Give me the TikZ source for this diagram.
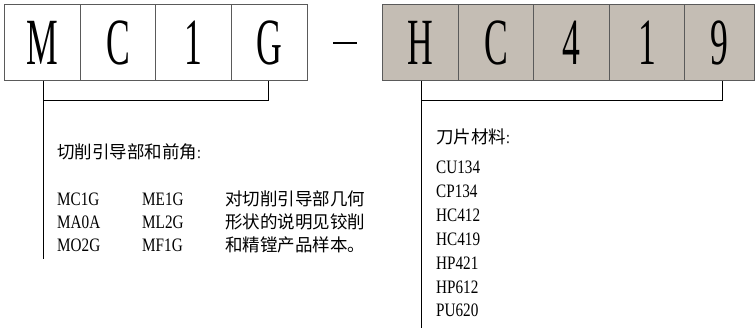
\documentclass[tikz,border=0pt]{standalone}
\usepackage{fontspec}
\setmainfont{Liberation Serif}
\newfontfamily\cjk{Noto Sans CJK SC}
\newfontfamily\bigf[FakeStretch=0.54]{Liberation Serif}
\newfontfamily\smallf[FakeStretch=0.8]{Liberation Serif}
\definecolor{boxfill}{RGB}{196,189,180}
\definecolor{boxline}{RGB}{90,90,90}
\tikzset{
  lbox/.style={draw=boxline, line width=0.9pt, minimum height=75.5pt, inner sep=0pt, font=\bigf\fontsize{66}{66}\selectfont},
  rbox/.style={lbox, fill=boxfill},
  cn/.style={anchor=west, inner sep=0pt, font=\cjk\fontsize{17.5}{20}\selectfont},
  lt/.style={anchor=west, inner sep=0pt, font=\smallf\fontsize{19}{22}\selectfont},
  brk/.style={line width=0.9pt, black}
}
\begin{document}
\begin{tikzpicture}[x=1pt,y=-1pt]
\useasboundingbox (0,0) rectangle (755,328);
% left code boxes
\node[lbox, minimum width=75.7pt] (m1) at (42.2,42.5) {M};
\node[lbox, minimum width=75.7pt] (m2) at (118,42.5) {C};
\node[lbox, minimum width=75.7pt] (m3) at (193.7,42.5) {1};
\node[lbox, minimum width=75.7pt] (m4) at (269.4,42.5) {G};
% dash
\node[inner sep=0pt, minimum width=24pt, minimum height=2.4pt, fill=black] (dash) at (345,43) {};
% right code boxes
\node[rbox, minimum width=75.7pt] (h1) at (420.2,42.5) {H};
\node[rbox, minimum width=75.7pt] (h2) at (496,42.5) {C};
\node[rbox, minimum width=75.7pt] (h3) at (571.5,42.5) {4};
\node[rbox, minimum width=75.7pt] (h4) at (647.2,42.5) {1};
\node[rbox, minimum width=69.5pt] (h5) at (719.6,42.5) {9};
% brackets
\coordinate (lbar) at (43,100);
\coordinate (lend) at (43,259);
\coordinate (rbar) at (421.7,100);
\coordinate (rend) at (421.7,328);
\draw[brk] (lbar |- m1.south) -- (lend);
\draw[brk] (lbar) -| (m4.south -| 268,0);
\draw[brk] (rbar |- h1.south) -- (rend);
\draw[brk] (rbar) -| (h5.south -| 722,0);
% left texts
\node[cn] (t1) at (57,152) {切削引导部和前角\smallf :};
\node[lt] (a1) at (57,199) {MC1G};
\node[lt] (a2) at (57,222) {MA0A};
\node[lt] (a3) at (57,245) {MO2G};
\node[lt] (b1) at (142,199) {ME1G};
\node[lt] (b2) at (142,222) {ML2G};
\node[lt] (b3) at (142,245) {MF1G};
\node[cn] (c1) at (225,199) {对切削引导部几何};
\node[cn] (c2) at (225,222) {形状的说明见铰削};
\node[cn] (c3) at (225,245) {和精镗产品样本。};
% right texts
\node[cn] (t2) at (436,137) {刀片材料\smallf :};
\node[lt] (r1) at (436,167) {CU134};
\node[lt] (r2) at (436,191) {CP134};
\node[lt] (r3) at (436,215) {HC412};
\node[lt] (r4) at (436,239) {HC419};
\node[lt] (r5) at (436,263) {HP421};
\node[lt] (r6) at (436,287) {HP612};
\node[lt] (r7) at (436,310) {PU620};
\end{tikzpicture}
\end{document}
